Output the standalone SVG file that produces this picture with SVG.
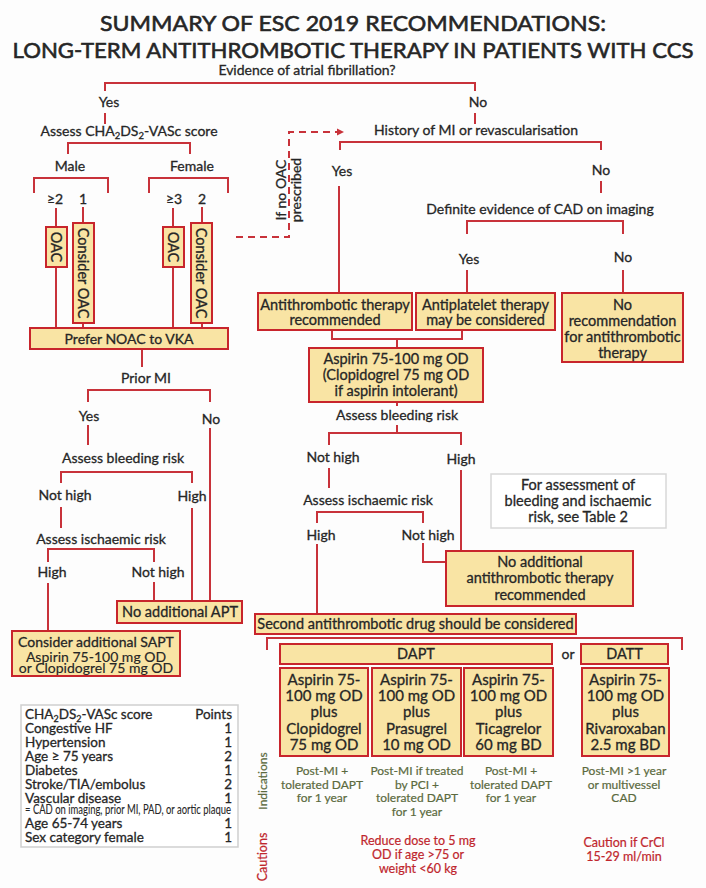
<svg xmlns="http://www.w3.org/2000/svg" width="706" height="888" viewBox="0 0 706 888">
<defs>
<style>
text{font-family:Lato,"Liberation Sans",sans-serif;fill:#262626;stroke:#262626;stroke-width:0.3px;font-size:14px}
.m{text-anchor:middle}
.e{text-anchor:end}
.title{font-size:22px;stroke-width:0.6px}
.bx{fill:#f9e4a4;stroke:#c8252c;stroke-width:2}
.ln{fill:none;stroke:#c8323a;stroke-width:2}
.dash{fill:none;stroke:#c8323a;stroke-width:2;stroke-dasharray:7 5}
.bt{font-size:14.5px}
.dt{font-size:15px}
.ind{font-size:12px;fill:#5b6a3e;stroke:#5b6a3e;stroke-width:0.2px}
.cau{font-size:12.5px;fill:#c0262d;stroke:#c0262d;stroke-width:0.2px}
.tb{font-size:13.5px}
</style>
<marker id="ah" markerWidth="8" markerHeight="8" refX="6" refY="4" orient="auto" markerUnits="userSpaceOnUse">
<path d="M0,0.5 L7,4 L0,7.5 Z" fill="#c8323a"/>
</marker>
</defs>
<rect width="706" height="888" fill="#fdfdfd"/>
<text class="title m" x="353" y="31" textLength="506" lengthAdjust="spacingAndGlyphs">SUMMARY OF ESC 2019 RECOMMENDATIONS:</text>
<text class="title m" x="353" y="58" textLength="681" lengthAdjust="spacingAndGlyphs">LONG-TERM ANTITHROMBOTIC THERAPY IN PATIENTS WITH CCS</text>

<g id="connectors">
<path class="ln" d="M105,91 V83 H475 V91"/>
<path class="ln" d="M105,113 V124 M475,113 V124"/>
<path class="ln" d="M68,154 V143 H190 V154"/>
<path class="ln" d="M34,193 V178 H108 V193 M149,193 V178 H228 V193"/>
<path class="ln" d="M56,208 V227 M83,207 V223 M173,208 V227 M202,207 V223"/>
<path class="ln" d="M56,267 V328 M83,323 V328 M173,267 V328 M202,323 V328"/>
<path class="dash" d="M236,237 H289 V132 H343" marker-end="url(#ah)"/>
<path class="ln" d="M142,349 V367"/>
<path class="ln" d="M88,402 V390 H210 V402"/>
<path class="ln" d="M88,425 V445 M210,428 V601"/>
<path class="ln" d="M61,483 V472 H192 V483"/>
<path class="ln" d="M61,507 V528 M192,508 V601"/>
<path class="ln" d="M48,562 V549 H154 V562"/>
<path class="ln" d="M48,583 V631 M154,582 V601"/>
<path class="ln" d="M340,150 V142 H601 V150"/>
<path class="ln" d="M339,186 V293 M601,181 V193"/>
<path class="ln" d="M467,234 V221 H623 V234"/>
<path class="ln" d="M467,270 V293 M623,270 V293"/>
<path class="ln" d="M332,330 V339 H462 V330 M397,339 V348"/>
<path class="ln" d="M397,402 V406 M397,425 V433"/>
<path class="ln" d="M329,445 V433 H461 V445"/>
<path class="ln" d="M329,468 V488 M461,470 V551"/>
<path class="ln" d="M317,523 V512 H423 V523"/>
<path class="ln" d="M317,544 V614 M423,543 V562 H447"/>
<path class="ln" d="M267,650 V638 H682 V650"/>
</g>

<g id="labels">
<text class="m" x="307" y="75">Evidence of atrial fibrillation?</text>
<text class="m" x="109" y="107">Yes</text>
<text class="m" x="478" y="107">No</text>
<text class="m" x="129" y="136">Assess CHA<tspan font-size="9.5" dy="3">2</tspan><tspan dy="-3">DS</tspan><tspan font-size="9.5" dy="3">2</tspan><tspan dy="-3">-VASc score</tspan></text>
<text class="m" x="476" y="135">History of MI or revascularisation</text>
<text class="m" x="70" y="171">Male</text>
<text class="m" x="192" y="171">Female</text>
<text class="m" x="55" y="204">≥2</text>
<text class="m" x="83" y="204">1</text>
<text class="m" x="174" y="204">≥3</text>
<text class="m" x="202" y="204">2</text>
<g transform="translate(290,190) rotate(-90)">
<text class="m" x="0" y="-4">If no OAC</text>
<text class="m" x="0" y="11">prescribed</text>
</g>
<text class="m" x="342" y="176">Yes</text>
<text class="m" x="601" y="175">No</text>
<text class="m" x="540" y="214">Definite evidence of CAD on imaging</text>
<text class="m" x="469" y="264">Yes</text>
<text class="m" x="623" y="262">No</text>
<text class="m" x="146" y="383">Prior MI</text>
<text class="m" x="89" y="421">Yes</text>
<text class="m" x="211" y="424">No</text>
<text class="m" x="123" y="463">Assess bleeding risk</text>
<text class="m" x="65" y="500">Not high</text>
<text class="m" x="192" y="501">High</text>
<text class="m" x="101" y="544">Assess ischaemic risk</text>
<text class="m" x="52" y="577">High</text>
<text class="m" x="158" y="577">Not high</text>
<text class="m" x="397" y="420">Assess bleeding risk</text>
<text class="m" x="333" y="462">Not high</text>
<text class="m" x="461" y="464">High</text>
<text class="m" x="368" y="505">Assess ischaemic risk</text>
<text class="m" x="321" y="540">High</text>
<text class="m" x="428" y="540">Not high</text>
<text class="m" x="568" y="659">or</text>
</g>

<g id="oac1"><rect class="bx" x="46" y="227" width="21" height="40"/><text class="bt m" transform="translate(56.5,247) rotate(90)" dominant-baseline="central">OAC</text></g>
<g id="consider-oac1"><rect class="bx" x="73" y="223" width="21" height="100"/><text class="bt m" transform="translate(83.5,273) rotate(90)" dominant-baseline="central">Consider OAC</text></g>
<g id="oac2"><rect class="bx" x="163" y="227" width="21" height="40"/><text class="bt m" transform="translate(173.5,247) rotate(90)" dominant-baseline="central">OAC</text></g>
<g id="consider-oac2"><rect class="bx" x="191" y="223" width="21" height="100"/><text class="bt m" transform="translate(201.5,273) rotate(90)" dominant-baseline="central">Consider OAC</text></g>
<g id="prefer-noac"><rect class="bx" x="30" y="328" width="198" height="21"/><text class="m" x="129" y="344" font-size="15">Prefer NOAC to VKA</text></g>
<g id="no-apt"><rect class="bx" x="117" y="601" width="125" height="22"/><text class="bt m" x="180" y="617">No additional APT</text></g>
<g id="sapt"><rect class="bx" x="12" y="631" width="168" height="45"/><text class="m" x="96" y="647" font-size="16">Consider additional SAPT</text><text class="m" x="96" y="662" font-size="9.5" style="stroke-width:0.15px">Aspirin 75-100 mg OD</text><text class="m" x="96" y="673" font-size="9.5" style="stroke-width:0.15px">or Clopidogrel 75 mg OD</text></g>

<g id="antithrombotic"><rect class="bx" x="258" y="293" width="154" height="37"/><text class="bt m" x="335" y="310">Antithrombotic therapy</text><text class="bt m" x="335" y="325">recommended</text></g>
<g id="antiplatelet"><rect class="bx" x="416" y="293" width="139" height="37"/><text class="bt m" x="485.5" y="310">Antiplatelet therapy</text><text class="bt m" x="485.5" y="325">may be considered</text></g>
<g id="no-recommendation"><rect class="bx" x="562" y="293" width="121" height="69"/><text class="bt m" x="622.5" y="310">No</text><text class="bt m" x="622.5" y="326">recommendation</text><text class="bt m" x="622.5" y="342">for antithrombotic</text><text class="bt m" x="622.5" y="358">therapy</text></g>
<g id="aspirin"><rect class="bx" x="309" y="348" width="174" height="54"/><text class="bt m" x="396" y="364">Aspirin 75-100 mg OD</text><text class="bt m" x="396" y="380">(Clopidogrel 75 mg OD</text><text class="bt m" x="396" y="396">if aspirin intolerant)</text></g>
<g id="table2-note"><rect x="491" y="474" width="175" height="54" fill="#fff" stroke="#d8d8d8" stroke-width="1.5"/><text class="bt m" x="578" y="490">For assessment of</text><text class="bt m" x="578" y="506">bleeding and ischaemic</text><text class="bt m" x="578" y="522">risk, see Table 2</text></g>
<g id="no-additional"><rect class="bx" x="446" y="551" width="187" height="55"/><text class="bt m" x="540" y="567">No additional</text><text class="bt m" x="540" y="583">antithrombotic therapy</text><text class="bt m" x="540" y="600">recommended</text></g>
<g id="second-drug"><rect class="bx" x="255" y="614" width="321" height="20"/><text class="bt m" x="415.5" y="629">Second antithrombotic drug should be considered</text></g>
<g id="dapt"><rect class="bx" x="280" y="644" width="272" height="20"/><text class="bt m" x="416" y="659">DAPT</text></g>
<g id="datt"><rect class="bx" x="581" y="644" width="87" height="20"/><text class="bt m" x="624.5" y="659">DATT</text></g>

<g id="clopidogrel"><rect class="bx" x="280" y="668" width="88" height="88"/><text class="dt m" x="324" y="685">Aspirin 75-</text><text class="dt m" x="324" y="701">100 mg OD</text><text class="dt m" x="324" y="717">plus</text><text class="dt m" x="324" y="734">Clopidogrel</text><text class="dt m" x="324" y="750">75 mg OD</text></g>
<g id="prasugrel"><rect class="bx" x="372" y="668" width="89" height="88"/><text class="dt m" x="416.5" y="685">Aspirin 75-</text><text class="dt m" x="416.5" y="701">100 mg OD</text><text class="dt m" x="416.5" y="717">plus</text><text class="dt m" x="416.5" y="734">Prasugrel</text><text class="dt m" x="416.5" y="750">10 mg OD</text></g>
<g id="ticagrelor"><rect class="bx" x="464" y="668" width="89" height="88"/><text class="dt m" x="508.5" y="685">Aspirin 75-</text><text class="dt m" x="508.5" y="701">100 mg OD</text><text class="dt m" x="508.5" y="717">plus</text><text class="dt m" x="508.5" y="734">Ticagrelor</text><text class="dt m" x="508.5" y="750">60 mg BD</text></g>
<g id="rivaroxaban"><rect class="bx" x="582" y="668" width="87" height="88"/><text class="dt m" x="625.5" y="685">Aspirin 75-</text><text class="dt m" x="625.5" y="701">100 mg OD</text><text class="dt m" x="625.5" y="717">plus</text><text class="dt m" x="625.5" y="734">Rivaroxaban</text><text class="dt m" x="625.5" y="750">2.5 mg BD</text></g>

<g id="indications">
<text class="ind" transform="translate(267,781) rotate(-90)" text-anchor="middle" font-size="13">Indications</text>
<text class="ind m" x="322" y="775">Post-MI +</text><text class="ind m" x="322" y="789">tolerated DAPT</text><text class="ind m" x="322" y="802">for 1 year</text>
<text class="ind m" x="417" y="775">Post-MI if treated</text><text class="ind m" x="417" y="789">by PCI +</text><text class="ind m" x="417" y="802">tolerated DAPT</text><text class="ind m" x="417" y="816">for 1 year</text>
<text class="ind m" x="511" y="775">Post-MI +</text><text class="ind m" x="511" y="789">tolerated DAPT</text><text class="ind m" x="511" y="802">for 1 year</text>
<text class="ind m" x="624" y="775">Post-MI &gt;1 year</text><text class="ind m" x="624" y="789">or multivessel</text><text class="ind m" x="624" y="802">CAD</text>
</g>
<g id="cautions">
<text class="cau" transform="translate(267,857) rotate(-90)" text-anchor="middle" font-size="13">Cautions</text>
<text class="cau m" x="418" y="845">Reduce dose to 5 mg</text><text class="cau m" x="418" y="859">OD if age &gt;75 or</text><text class="cau m" x="418" y="873">weight &lt;60 kg</text>
<text class="cau m" x="624" y="847">Caution if CrCl</text><text class="cau m" x="624" y="861">15-29 ml/min</text>
</g>

<g id="cha2ds2-table">
<rect x="21" y="705" width="217" height="142" fill="#fff" stroke="#cfcfcf" stroke-width="1.5"/>
<text class="tb" x="25" y="719">CHA<tspan font-size="9" dy="3">2</tspan><tspan dy="-3">DS</tspan><tspan font-size="9" dy="3">2</tspan><tspan dy="-3">-VASc score</tspan></text><text class="tb e" x="232" y="719">Points</text>
<text class="tb" x="25" y="733">Congestive HF</text><text class="tb e" x="232" y="733">1</text>
<text class="tb" x="25" y="747">Hypertension</text><text class="tb e" x="232" y="747">1</text>
<text class="tb" x="25" y="761">Age ≥ 75 years</text><text class="tb e" x="232" y="761">2</text>
<text class="tb" x="25" y="775">Diabetes</text><text class="tb e" x="232" y="775">1</text>
<text class="tb" x="25" y="789">Stroke/TIA/embolus</text><text class="tb e" x="232" y="789">2</text>
<text class="tb" x="25" y="803">Vascular disease</text><text class="tb e" x="232" y="803">1</text>
<text x="25" y="814" font-size="7" textLength="206" lengthAdjust="spacingAndGlyphs" style="stroke-width:0.1px">= CAD on imaging, prior MI, PAD, or aortic plaque</text>
<text class="tb" x="25" y="828">Age 65-74 years</text><text class="tb e" x="232" y="828">1</text>
<text class="tb" x="25" y="842">Sex category female</text><text class="tb e" x="232" y="842">1</text>
</g>
</svg>
